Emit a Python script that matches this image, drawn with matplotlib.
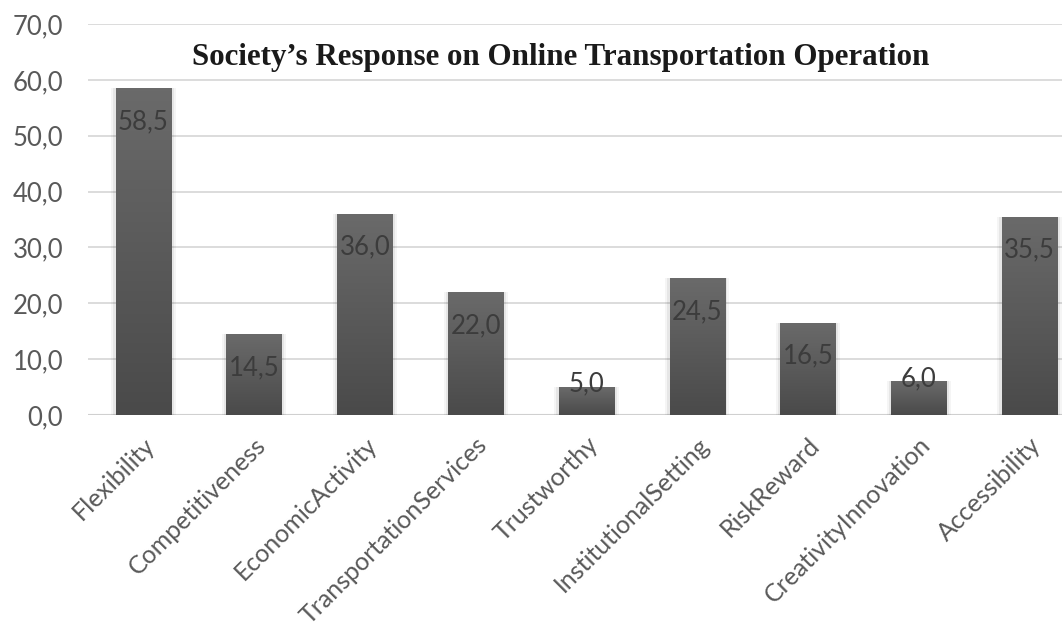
import matplotlib
matplotlib.use("Agg")
import matplotlib.pyplot as plt
import numpy as np
from matplotlib.colors import LinearSegmentedColormap

categories = ["Flexibility", "Competitiveness", "EconomicActivity", "TransportationServices",
              "Trustworthy", "InstitutionalSetting", "RiskReward", "CreativityInnovation", "Accessibility"]
values = [58.5, 14.5, 36.0, 22.0, 5.0, 24.5, 16.5, 6.0, 35.5]
yticks = [0, 10, 20, 30, 40, 50, 60, 70]
title = "Society\u2019s Response on Online Transportation Operation"

W, H = 1062, 634
fig = plt.figure(figsize=(W / 100, H / 100), dpi=100)
ax = fig.add_axes([88 / W, (H - 415) / H, (1085 - 88) / W, (415 - 24) / H])

x = np.arange(len(categories))
bars = ax.bar(x, values, width=0.5, color="#595959", zorder=3)

# vertical gradient + soft shadow on each bar
grad = np.linspace(0, 1, 100).reshape(-1, 1)
cmap = LinearSegmentedColormap.from_list("g", ["#4a4a4a", "#6a6a6a"])
for b in bars:
    x0, w, h = b.get_x(), b.get_width(), b.get_height()
    for k, a in [(0.08, 0.04), (0.045, 0.06)]:
        ax.bar(x0 + w / 2, h, width=w + k, bottom=0, color="#000000", alpha=a, zorder=2)
    im = ax.imshow(grad, extent=[x0, x0 + w, 0, h], origin="lower", cmap=cmap,
                   aspect="auto", zorder=3.5)
    im.set_clip_path(b)

ax.set_xlim(-0.5, len(categories) - 0.5)
ax.set_ylim(0, 70)
ax.set_yticks(yticks)
ax.set_yticklabels([f"{v:.1f}".replace(".", ",") for v in yticks],
                   fontsize=18.5, color="#595959", family="Lato")
ax.set_xticks(x)
ax.set_xticklabels(categories, rotation=45, ha="right", va="top", rotation_mode="anchor",
                   fontsize=18, color="#595959", family="Lato")
ax.tick_params(axis="y", length=0, pad=18)
ax.tick_params(axis="x", length=0, pad=13)
ax.yaxis.grid(True, color="#d9d9d9", linewidth=1.3, zorder=0)
ax.set_axisbelow(True)
for s in ax.spines.values():
    s.set_visible(False)
ax.axhline(0, color="#d0d0d0", linewidth=1.5, zorder=1)

for xi, v in zip(x, values):
    lbl = f"{v:.1f}".replace(".", ",")
    if v < 8:
        ax.annotate(lbl, (xi, v), xytext=(0, 2), textcoords="offset points",
                    ha="center", va="center", fontsize=18.5, color="#3c3c3c", family="Lato", zorder=5)
    else:
        ax.annotate(lbl, (xi, v), xytext=(0, -24), textcoords="offset points",
                    ha="center", va="center", fontsize=18.5, color="#3c3c3c", family="Lato", zorder=5)

fig.text(561 / W, (H - 57) / H, title, ha="center", va="center", fontsize=22.3,
         fontweight="bold", family="Liberation Serif", color="#1a1a1a")

fig.savefig("out.png", dpi=100, facecolor="white")
